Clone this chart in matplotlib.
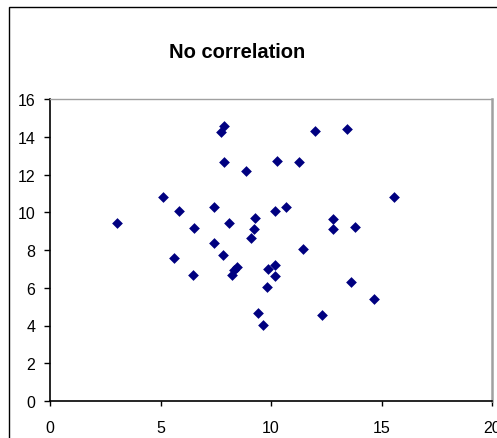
import matplotlib
matplotlib.use("Agg")
import matplotlib.pyplot as plt
from matplotlib.patches import Rectangle

plt.rcParams['font.family'] = ['Liberation Sans', 'DejaVu Sans']

# values
x_vals = [7.87, 7.74, 11.99, 13.45, 7.87, 10.27, 11.28, 8.87, 5.10, 15.57,
          5.82, 7.42, 10.17, 10.68, 3.05, 8.10, 9.29, 12.79, 6.53, 9.23,
          12.81, 13.82, 9.11, 7.42, 11.46, 7.83, 5.63, 10.18, 8.46, 8.34,
          9.86, 6.46, 8.24, 10.18, 9.80, 13.63, 14.65, 9.40, 12.29, 9.64]
y_vals = [14.55, 14.24, 14.30, 14.39, 12.68, 12.73, 12.68, 12.20, 10.81, 10.81,
          10.05, 10.26, 10.05, 10.26, 9.45, 9.45, 9.71, 9.64, 9.15, 9.10,
          9.10, 9.24, 8.65, 8.39, 8.05, 7.72, 7.58, 7.22, 7.08, 6.96,
          7.01, 6.68, 6.66, 6.62, 6.06, 6.32, 5.42, 4.66, 4.54, 4.04]
x_ticks = [0, 5, 10, 15, 20]
y_ticks = [0, 2, 4, 6, 8, 10, 12, 14, 16]
title = "No correlation"

W, H = 497, 439
fig = plt.figure(figsize=(W / 100, H / 100), dpi=100)

# outer chart frame (cut off at right and bottom in the reference)
fig.patches.append(Rectangle((9 / W, -0.1), 1.2, 1 - 8 / H + 0.1,
                             transform=fig.transFigure, fill=False,
                             edgecolor="black", linewidth=1.0))

ax = fig.add_axes([50 / W, (H - 402) / H, 442 / W, 302 / H])
ax.scatter(x_vals, y_vals, marker="D", s=30, color="#000080", linewidths=0)

ax.set_xlim(0, 20)
ax.set_ylim(0, 16)
ax.set_xticks(x_ticks)
ax.set_yticks(y_ticks)
ax.tick_params(axis="y", direction="out", length=4.5, width=1, pad=6, labelsize=11.5)
ax.tick_params(axis="x", direction="out", length=3.5, width=1, pad=10, labelsize=11.5)

for side in ("left", "bottom"):
    ax.spines[side].set_color("black")
    ax.spines[side].set_linewidth(1.2)
ax.spines["top"].set_color("#a0a0a0")
ax.spines["top"].set_linewidth(1.0)
ax.spines["right"].set_color("#a0a0a0")
ax.spines["right"].set_linewidth(1.8)

fig.text(237 / W, 1 - 53 / H, title, ha="center", va="center",
         fontsize=14.5, fontweight="bold")

fig.savefig("out.png", dpi=100)
